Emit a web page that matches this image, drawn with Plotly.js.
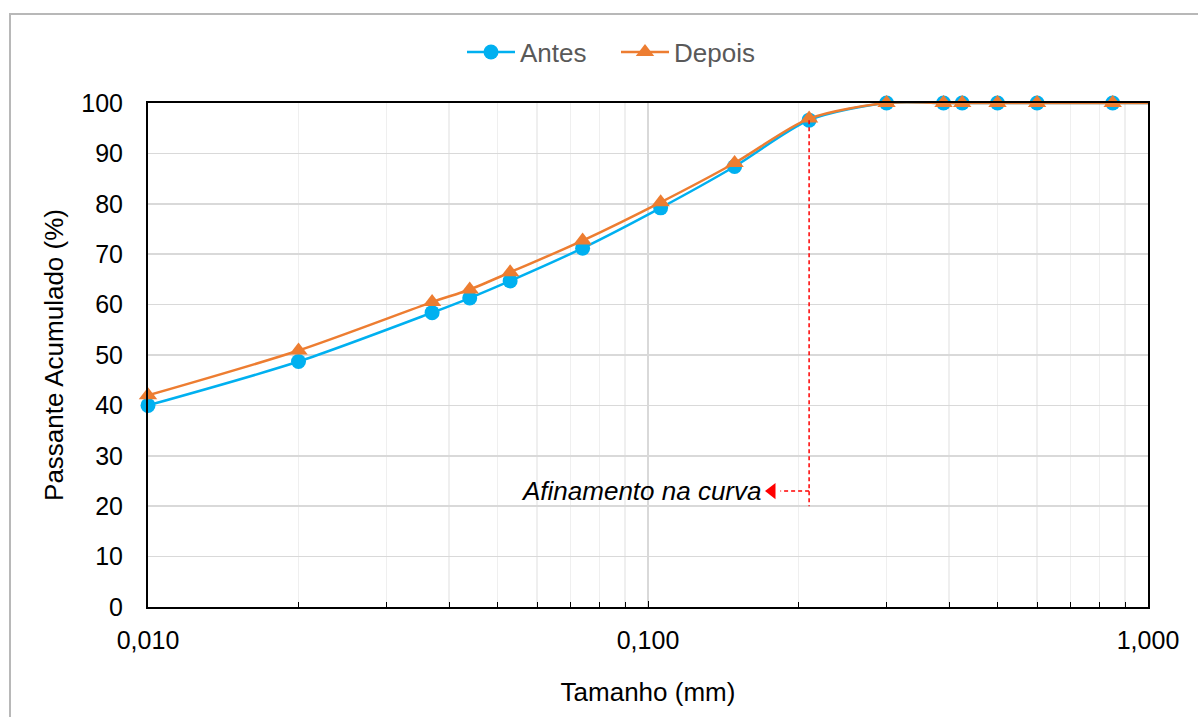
<!DOCTYPE html>
<html>
<head>
<meta charset="utf-8">
<script src="https://cdn.plot.ly/plotly-3.0.1.min.js"></script>
<style>
  html, body { margin: 0; padding: 0; background: #ffffff; overflow: hidden; }
  #frame { position: absolute; left: 9px; top: 13px; width: 1400px; height: 900px;
           border: 2px solid #b8b8b8; box-sizing: border-box; }
  #chart { position: absolute; left: 0; top: 0; width: 1198px; height: 717px; }
</style>
</head>
<body>
<div id="frame"></div>
<div id="chart"></div>
<script>
// Particle size (mm) for each sieve / fraction
const tamanho = [0.010, 0.020, 0.037, 0.044, 0.053, 0.074, 0.106, 0.149, 0.210, 0.300, 0.390, 0.425, 0.500, 0.600, 0.850, 1.180];
// Cumulative passing (%) before and after
const antes  = [40.0, 48.7, 58.4, 61.3, 64.7, 71.2, 79.2, 87.4, 96.6, 100, 100, 100, 100, 100, 100, 100];
const depois = [42.0, 50.9, 60.5, 63.0, 66.4, 72.7, 80.3, 88.1, 96.9, 100, 100, 100, 100, 100, 100, 100];

// Guide line marking the narrowing of the curve
const guiaX = [0.210, 0.210];
const guiaY = [96.6, 20];
const setaX = [0.210, 0.184];
const setaY = [23, 23];
const pontaSeta = 0.177;
const textoX = 0.170;
const textoY = 23;
const textoNota = 'Afinamento na curva';

const FONT = '"Liberation Sans", Arial, sans-serif';
const xMax = 1.0;

// points inside the axis range carry markers; the sieve beyond 1 mm only continues the line
const nVis = tamanho.filter(v => v <= xMax).length;
const visX = tamanho.slice(0, nVis);
const tailX = tamanho.slice(nVis - 1);

function serie(nome, valores, cor, simbolo, tam) {
  return [
    {
      x: visX, y: valores.slice(0, nVis), name: nome, type: 'scatter', mode: 'lines+markers',
      line: { color: cor, width: 2.5, shape: 'spline', smoothing: 0.8 },
      marker: { symbol: simbolo, size: tam, color: cor },
      cliponaxis: false, legendgroup: nome
    },
    {
      x: tailX, y: valores.slice(nVis - 1), type: 'scatter', mode: 'lines',
      line: { color: cor, width: 2.5 }, showlegend: false, legendgroup: nome, hoverinfo: 'skip'
    }
  ];
}

const traces = [
  ...serie('Antes', antes, '#00B0F0', 'circle', 15),
  ...serie('Depois', depois, '#ED7D31', 'triangle-up', 16),
  {
    x: guiaX, y: guiaY, mode: 'lines', showlegend: false, hoverinfo: 'skip',
    line: { color: '#FF0000', width: 1.5, dash: '4px,3px' }
  },
  {
    x: setaX, y: setaY, mode: 'lines', showlegend: false, hoverinfo: 'skip',
    line: { color: '#FF0000', width: 1.5, dash: '4px,3px' }
  },
  {
    x: [pontaSeta], y: [textoY], mode: 'markers', showlegend: false, hoverinfo: 'skip',
    marker: { symbol: 'triangle-left', size: 14, color: '#FF0000' }
  }
];

const layout = {
  width: 1198, height: 717,
  paper_bgcolor: 'rgba(0,0,0,0)', plot_bgcolor: 'rgba(0,0,0,0)',
  margin: { l: 148, r: 50, t: 103, b: 110 },
  separators: ',.',
  font: { family: FONT, size: 25, color: '#000000' },
  showlegend: true,
  legend: {
    orientation: 'h', x: 0.468, xanchor: 'center', y: 1.101, yanchor: 'middle',
    itemwidth: 48, entrywidth: 91, entrywidthmode: 'pixels',
    font: { family: FONT, size: 26, color: '#595959' }, bgcolor: 'rgba(0,0,0,0)'
  },
  xaxis: {
    type: 'log', range: [-2, 0], dtick: 1, tickformat: '.3f',
    showline: true, linecolor: '#000000', linewidth: 2, mirror: true,
    showgrid: true, gridcolor: '#d9d9d9', gridwidth: 1.5,
    ticks: 'inside', ticklen: 6, tickcolor: '#000000', tickwidth: 1,
    minor: { dtick: 'D1', showgrid: true, gridcolor: '#efefef', gridwidth: 1.5,
             ticks: 'inside', ticklen: 5, tickcolor: '#000000', tickwidth: 1 },
    ticklabelstandoff: 10,
    tickfont: { family: FONT, size: 25, color: '#000000' },
    title: { text: 'Tamanho (mm)', font: { family: FONT, size: 26, color: '#000000' }, standoff: 30 },
    zeroline: false, layer: 'above traces', automargin: false
  },
  yaxis: {
    range: [0, 100], dtick: 10,
    showline: true, linecolor: '#000000', linewidth: 2, mirror: true,
    showgrid: true, gridcolor: '#d9d9d9', gridwidth: 1.5,
    ticks: '', ticklabelstandoff: 18,
    tickfont: { family: FONT, size: 25, color: '#000000' },
    title: { text: 'Passante Acumulado (%)', font: { family: FONT, size: 26, color: '#000000' }, standoff: 10 },
    zeroline: false, layer: 'above traces', automargin: false
  },
  annotations: [
    {
      xref: 'x', yref: 'y', x: Math.log10(textoX), y: textoY,
      text: textoNota, showarrow: false, xanchor: 'right', yanchor: 'middle',
      font: { family: FONT, size: 26, color: '#000000', style: 'italic' }
    }
  ]
};

Plotly.newPlot('chart', traces, layout, { displayModeBar: false, staticPlot: true });
</script>
</body>
</html>
